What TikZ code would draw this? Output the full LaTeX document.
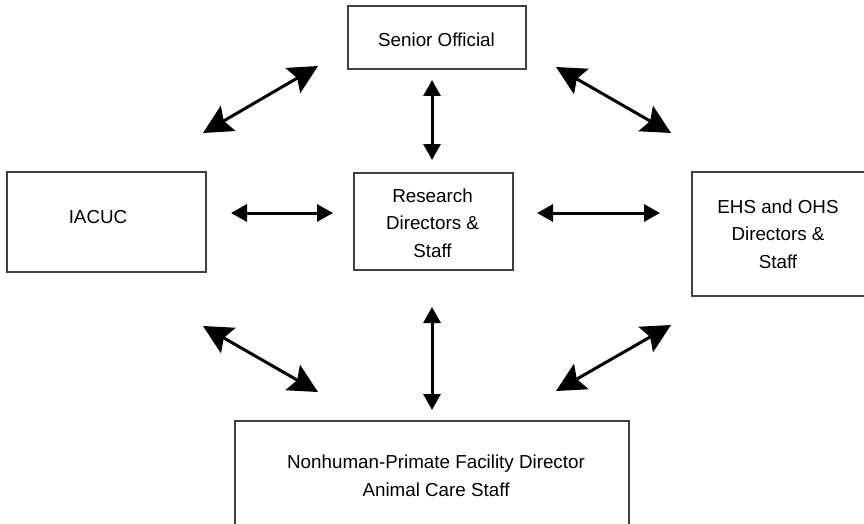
\documentclass[tikz,border=0pt]{standalone}
\usepackage{fontspec}
\setmainfont{Liberation Sans}
\usetikzlibrary{arrows.meta}
\begin{document}
\begin{tikzpicture}[x=1pt,y=-1pt,
  box/.style={draw=black!75,line width=1.3pt},
  lbl/.style={inner sep=0pt,align=center,font=\fontsize{18.8}{27.5}\selectfont},
  biarrow/.style={line width=3pt,{Triangle[length=16pt,width=17pt]}-{Triangle[length=16pt,width=17pt]}},
  diagarrow/.style={line width=3pt,{Stealth[length=29pt,width=29pt,inset=5pt]}-{Stealth[length=29pt,width=29pt,inset=5pt]}}]
\useasboundingbox (0,0) rectangle (864,524);
% boxes
\draw[box] (348,6) rectangle (526,69);
\draw[box] (7,172) rectangle (206,272);
\draw[box] (354,173) rectangle (513,270);
\draw[box] (692,172) rectangle (872,296);
\draw[box] (235,421) rectangle (629,532);
% labels
\node[lbl] (senior) at (436.5,40) {Senior Official};
\node[lbl] (iacuc) at (98,217) {IACUC};
\node[lbl] (research) at (432.5,223) {Research\\Directors \&\\ Staff};
\node[lbl] (ehs) at (778,234) {EHS and OHS\\Directors \&\\ Staff};
\node[lbl] (nhp) at (436,476) {Nonhuman-Primate Facility Director\\Animal Care Staff};
% arrow end points
\coordinate (tl1) at (203,133); \coordinate (tl2) at (318,66);
\coordinate (tv1) at (432,80);  \coordinate (tv2) at (432,160);
\coordinate (tr1) at (556,67);  \coordinate (tr2) at (671,133);
\coordinate (hl1) at (231,213); \coordinate (hl2) at (333,213);
\coordinate (hr1) at (537,213); \coordinate (hr2) at (660,213);
\coordinate (bl1) at (203,326); \coordinate (bl2) at (318,392);
\coordinate (bv1) at (432,307); \coordinate (bv2) at (432,410);
\coordinate (br1) at (556,391); \coordinate (br2) at (671,325);
% arrows
\draw[diagarrow] (tl1) -- (tl2);
\draw[biarrow] (tv1) -- (tv2);
\draw[diagarrow] (tr1) -- (tr2);
\draw[biarrow] (hl1) -- (hl2);
\draw[biarrow] (hr1) -- (hr2);
\draw[diagarrow] (bl1) -- (bl2);
\draw[biarrow] (bv1) -- (bv2);
\draw[diagarrow] (br1) -- (br2);
\end{tikzpicture}
\end{document}
